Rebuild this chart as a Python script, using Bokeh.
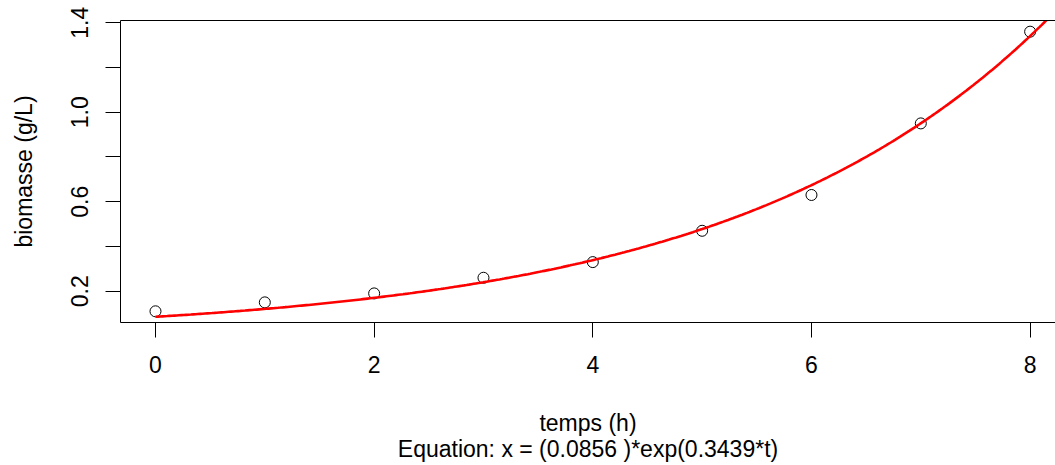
import numpy as np
from bokeh.plotting import figure
from bokeh.models import LinearAxis, FixedTicker, CustomJSTickFormatter, Range1d
from bokeh.embed import file_html
from bokeh.resources import INLINE

# ---- data ----
t_hours = [0, 1, 2, 3, 4, 5, 6, 7, 8]
biomass = [0.11, 0.15, 0.19, 0.26, 0.33, 0.47, 0.63, 0.95, 1.36]
fit_a = 0.0856
fit_b = 0.3439
x_ticks = [0, 2, 4, 6, 8]
x_tick_labels = ["0", "2", "4", "6", "8"]
y_ticks = [0.2, 0.4, 0.6, 0.8, 1.0, 1.2, 1.4]
y_tick_labels = ["0.2", "", "0.6", "", "1.0", "", "1.4"]
x_title = "temps (h)"
y_title = "biomasse (g/L)"
equation_text = "Equation: x = (0.0856 )*exp(0.3439*t)"

FONT = "Liberation Sans"
FS = "23px"

W, H = 1055, 465
BL, BT, BB, BR = 120, 20, 143, 0
x0, x1 = -0.32, 8.232
y0, y1 = 0.06, 1.41

p = figure(width=W, height=H, output_backend="svg", toolbar_location=None,
           x_range=Range1d(x0, x1), y_range=Range1d(y0, y1),
           x_axis_type=None, y_axis_type=None,
           min_border_left=BL, min_border_right=BR, min_border_top=BT,
           min_border_bottom=BB)
p.outline_line_color = None
p.background_fill_color = "white"
p.border_fill_color = "white"

fmt_code = """
const i = tvals.findIndex(v => Math.abs(v - tick) < 1e-9);
return i >= 0 ? tlabels[i] : '';
"""


def style_axis(ax):
    ax.axis_line_color = "black"
    ax.axis_line_width = 1
    ax.major_tick_line_color = "black"
    ax.major_tick_line_width = 1
    ax.minor_tick_line_color = None
    ax.major_tick_in = 0
    ax.major_tick_out = 15
    ax.major_label_text_font = FONT
    ax.major_label_text_font_size = FS
    ax.major_label_text_color = "black"
    ax.axis_label_text_font = FONT
    ax.axis_label_text_font_size = FS
    ax.axis_label_text_font_style = "normal"
    ax.axis_label_text_color = "black"


xaxis = LinearAxis(ticker=FixedTicker(ticks=x_ticks),
                   formatter=CustomJSTickFormatter(args=dict(tvals=x_ticks, tlabels=x_tick_labels), code=fmt_code),
                   axis_label=x_title + "\n" + equation_text)
style_axis(xaxis)
xaxis.major_label_standoff = 18
xaxis.axis_label_standoff = 34
xaxis.axis_label_text_line_height = 1.0
p.add_layout(xaxis, "below")

yaxis = LinearAxis(ticker=FixedTicker(ticks=y_ticks),
                   formatter=CustomJSTickFormatter(args=dict(tvals=y_ticks, tlabels=y_tick_labels), code=fmt_code),
                   axis_label=y_title)
style_axis(yaxis)
yaxis.major_label_orientation = "vertical"
yaxis.major_label_standoff = 17
yaxis.axis_label_standoff = 32
p.add_layout(yaxis, "left")

top = LinearAxis(ticker=FixedTicker(ticks=[]))
top.axis_line_color = "black"
top.major_tick_out = 0
top.major_tick_in = 0
top.minor_tick_line_color = None
top.major_label_standoff = 0
top.major_label_text_font_size = "0px"
p.add_layout(top, "above")

p.scatter(t_hours, biomass, marker="circle", size=11, fill_color=None,
          line_color="black", line_width=1)

t_curve = np.linspace(0, 8.6, 400)
p.line(t_curve, fit_a * np.exp(fit_b * t_curve), line_color="red", line_width=2.6)

open("out.html", "w").write(file_html(p, INLINE))
